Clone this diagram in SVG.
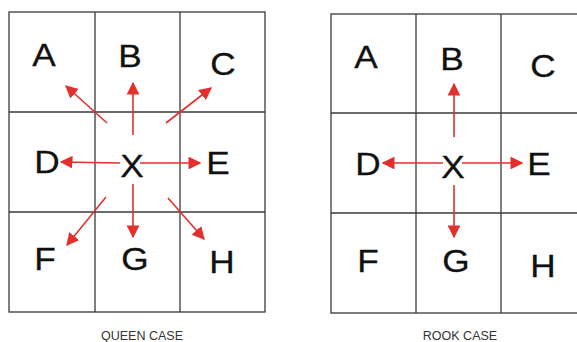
<svg xmlns="http://www.w3.org/2000/svg" width="577" height="342" viewBox="0 0 577 342">
<defs>
<style>
.grid{fill:none;stroke:#3a3a3a;stroke-width:1.3}
.lbl{font-family:"Liberation Sans",Arial,sans-serif;font-size:32px;fill:#111;stroke:#111;stroke-width:0.3;text-anchor:middle}
.cap{font-family:"Liberation Sans",Arial,sans-serif;font-size:12.5px;fill:#333;text-anchor:middle}
.arr{stroke:#e2302c;stroke-width:1.6;fill:none;marker-end:url(#ah)}
</style>
<marker id="ah" viewBox="0 0 10 10" refX="9" refY="5" markerWidth="8" markerHeight="8" markerUnits="strokeWidth" orient="auto">
<path d="M0,0 L10,5 L0,10 Z" fill="#e2302c"/>
</marker>
</defs>
<rect width="577" height="342" fill="#fff"/>
<g id="queen-grid">
<rect class="grid" x="9" y="12" width="256" height="300"/>
<line class="grid" x1="95" y1="12" x2="95" y2="312"/>
<line class="grid" x1="180" y1="12" x2="180" y2="312"/>
<line class="grid" x1="9" y1="112" x2="265" y2="112"/>
<line class="grid" x1="9" y1="212" x2="265" y2="212"/>
</g>
<g id="queen-A"><text class="lbl" transform="translate(44,66) scale(1.1,1)">A</text></g>
<g id="queen-B"><text class="lbl" transform="translate(130,67) scale(1.1,1)">B</text></g>
<g id="queen-C"><text class="lbl" transform="translate(223,75) scale(1.1,1)">C</text></g>
<g id="queen-D"><text class="lbl" transform="translate(47,173) scale(1.1,1)">D</text></g>
<g id="queen-X"><text class="lbl" transform="translate(132,177) scale(1.1,1)">X</text></g>
<g id="queen-E"><text class="lbl" transform="translate(218,174) scale(1.1,1)">E</text></g>
<g id="queen-F"><text class="lbl" transform="translate(45,270) scale(1.1,1)">F</text></g>
<g id="queen-G"><text class="lbl" transform="translate(135,270) scale(1.1,1)">G</text></g>
<g id="queen-H"><text class="lbl" transform="translate(222,273) scale(1.1,1)">H</text></g>
<g id="queen-connectors">
<line class="arr" x1="107" y1="123" x2="66" y2="86"/>
<line class="arr" x1="133" y1="135" x2="133" y2="83"/>
<line class="arr" x1="166" y1="123" x2="211" y2="88"/>
<line class="arr" x1="120" y1="163" x2="61" y2="162"/>
<line class="arr" x1="140" y1="163" x2="200" y2="163"/>
<line class="arr" x1="106" y1="197" x2="67" y2="245"/>
<line class="arr" x1="133" y1="184" x2="133" y2="237"/>
<line class="arr" x1="168" y1="198" x2="204" y2="239"/>
</g>
<g id="queen-caption"><text class="cap" x="142" y="340">QUEEN CASE</text></g>
<g id="rook-grid">
<rect class="grid" x="331" y="14" width="260" height="299"/>
<line class="grid" x1="416" y1="14" x2="416" y2="313"/>
<line class="grid" x1="501" y1="14" x2="501" y2="313"/>
<line class="grid" x1="331" y1="113" x2="591" y2="113"/>
<line class="grid" x1="331" y1="213" x2="591" y2="213"/>
</g>
<g id="rook-A"><text class="lbl" transform="translate(366,68) scale(1.1,1)">A</text></g>
<g id="rook-B"><text class="lbl" transform="translate(452,70) scale(1.1,1)">B</text></g>
<g id="rook-C"><text class="lbl" transform="translate(543,77) scale(1.1,1)">C</text></g>
<g id="rook-D"><text class="lbl" transform="translate(368,175) scale(1.1,1)">D</text></g>
<g id="rook-X"><text class="lbl" transform="translate(453,178) scale(1.1,1)">X</text></g>
<g id="rook-E"><text class="lbl" transform="translate(539,175) scale(1.1,1)">E</text></g>
<g id="rook-F"><text class="lbl" transform="translate(368,272) scale(1.1,1)">F</text></g>
<g id="rook-G"><text class="lbl" transform="translate(456,272) scale(1.1,1)">G</text></g>
<g id="rook-H"><text class="lbl" transform="translate(543,277) scale(1.1,1)">H</text></g>
<g id="rook-connectors">
<line class="arr" x1="454" y1="137" x2="454" y2="84"/>
<line class="arr" x1="443" y1="163" x2="383" y2="163"/>
<line class="arr" x1="462" y1="163" x2="522" y2="163"/>
<line class="arr" x1="454" y1="185" x2="454" y2="237"/>
</g>
<g id="rook-caption"><text class="cap" x="460" y="339.5">ROOK CASE</text></g>
</svg>
